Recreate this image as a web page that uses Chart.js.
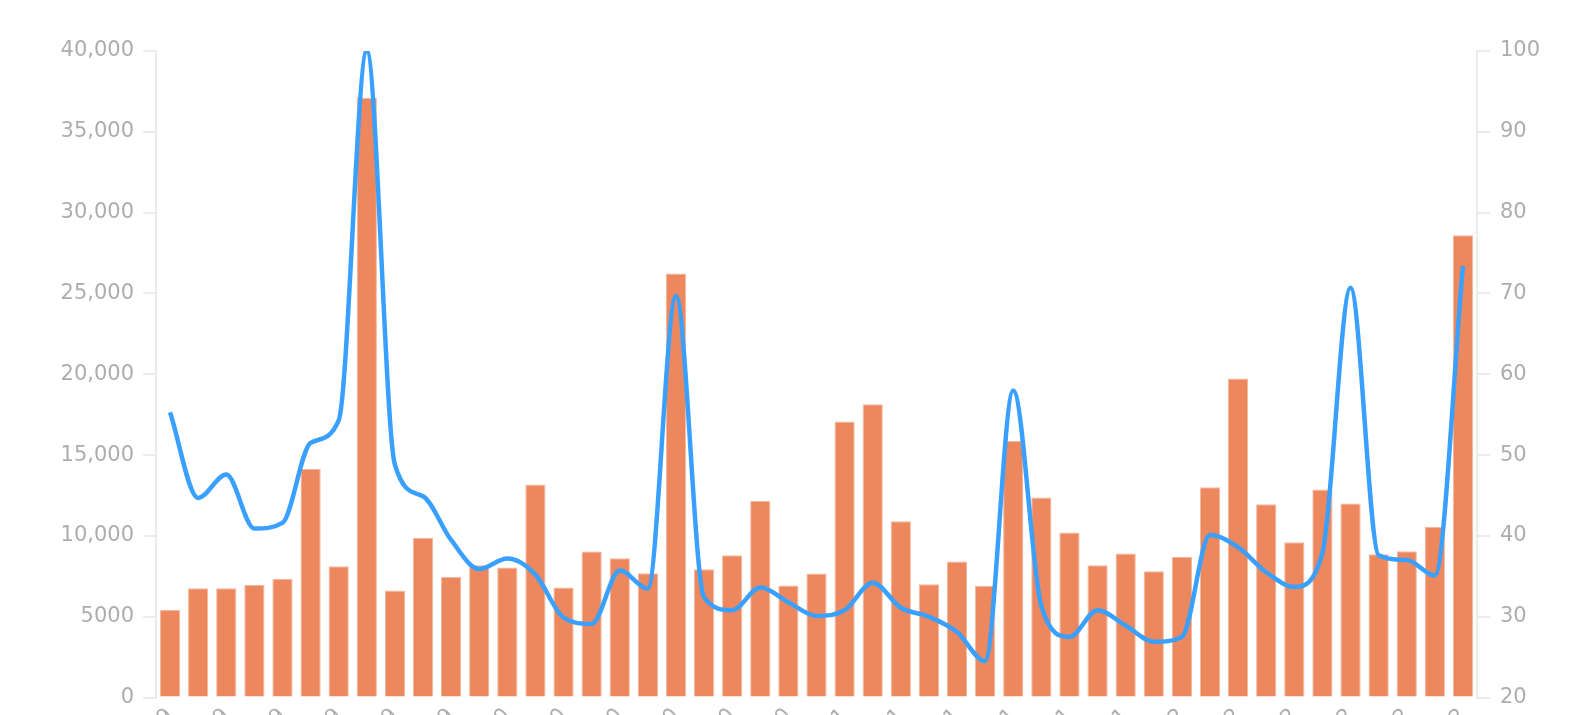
<!DOCTYPE html>
<html>
<head>
<meta charset="utf-8">
<script src="https://cdn.jsdelivr.net/npm/chart.js@4.4.1/dist/chart.umd.min.js"></script>
<style>
    html, body { margin: 0; padding: 0; background: #fff; overflow: hidden; }
    #wrap { position: absolute; left: 0; top: 0; width: 1592px; height: 800px; }
</style>
</head>
<body>
<div id="wrap"><canvas id="chart"></canvas></div>
<script>
const months = ['Jan', 'Feb', 'Mar', 'Apr', 'May', 'Jun', 'Jul', 'Aug', 'Sep', 'Oct', 'Nov', 'Dec'];
const years = ['2019', '2020', '2021', '2022'];

const barValues = [
    5417, 6765, 6765, 6961, 7353, 14142, 8113, 37110, 6618, 9877, 7451, 8186,
    8039, 13180, 6804, 9031, 8619, 7691, 26227, 7938, 8804, 12165, 6928, 7670,
    17072, 18144, 10907, 7000, 8412, 6907, 15876, 12371, 10206, 8186, 8907, 7814,
    8701, 13010, 19732, 11959, 9608, 12866, 12000, 8866, 9052, 10557, 28596
];

const lineValues = [
    55.3, 44.7, 47.6, 40.9, 41.6, 51.5, 54.3, 100, 48.8, 44.9, 39.5, 35.9,
    37.2, 35.2, 29.9, 29.1, 35.7, 33.5, 69.7, 32.4, 30.8, 33.6, 31.8, 30.1,
    30.8, 34.2, 31.1, 30.0, 28.1, 24.5, 58.0, 31.3, 27.5, 30.8, 28.9, 26.9,
    27.5, 40.1, 38.6, 35.5, 33.7, 37.9, 70.7, 37.6, 37.0, 35.1, 73.4
];

const leftTicks = [0, 5000, 10000, 15000, 20000, 25000, 30000, 35000, 40000];
const rightTicks = [20, 30, 40, 50, 60, 70, 80, 90, 100];

const labels = [];
years.forEach(y => months.forEach(m => labels.push(m + ' ' + y)));
labels.length = barValues.length;

const gray = '#adadad';
const axisGray = '#ebebeb';
const font = { family: 'DejaVu Sans', size: 21, weight: 'normal' };

new Chart(document.getElementById('chart'), {
    type: 'bar',
    data: {
        labels: labels,
        datasets: [
            {
                type: 'line',
                data: lineValues,
                yAxisID: 'y1',
                borderColor: '#3aa0ff',
                borderWidth: 4.5,
                cubicInterpolationMode: 'monotone',
                pointRadius: 0,
                fill: false,
                order: 0
            },
            {
                type: 'bar',
                data: barValues,
                yAxisID: 'y',
                backgroundColor: '#ec875e',
                borderColor: '#f4b89e',
                borderWidth: 1,
                barPercentage: 0.9,
                categoryPercentage: 0.8,
                order: 1
            }
        ]
    },
    options: {
        responsive: true,
        maintainAspectRatio: false,
        animation: false,
        layout: { padding: { top: 51, left: 0, right: 0, bottom: 0 } },
        plugins: { legend: { display: false }, tooltip: { enabled: false } },
        scales: {
            x: {
                grid: { display: false, drawTicks: false },
                border: { display: false },
                ticks: {
                    color: gray,
                    font: font,
                    autoSkip: false,
                    minRotation: 45,
                    maxRotation: 45,
                    padding: 6,
                    callback: (v, i) => i % 2 === 0 ? labels[i] : ''
                },
                afterFit: s => { s.height = 800 - 697.5; }
            },
            y: {
                position: 'left',
                min: 0,
                max: 40000,
                afterBuildTicks: s => { s.ticks = leftTicks.map(v => ({ value: v })); },
                grid: { drawOnChartArea: false, color: axisGray, lineWidth: 2, tickLength: 13 },
                border: { color: axisGray, width: 2 },
                ticks: {
                    color: gray,
                    font: font,
                    padding: 9,
                    callback: v => v >= 10000 ? v.toLocaleString('en-US') : String(v)
                },
                afterFit: s => { s.width = 156; }
            },
            y1: {
                position: 'right',
                min: 20,
                max: 100,
                afterBuildTicks: s => { s.ticks = rightTicks.map(v => ({ value: v })); },
                grid: { drawOnChartArea: false, color: axisGray, lineWidth: 2, tickLength: 13 },
                border: { color: axisGray, width: 2 },
                ticks: { color: gray, font: font, padding: 10 },
                afterFit: s => { s.width = 1592 - 1477; }
            }
        }
    }
});
</script>
</body>
</html>
